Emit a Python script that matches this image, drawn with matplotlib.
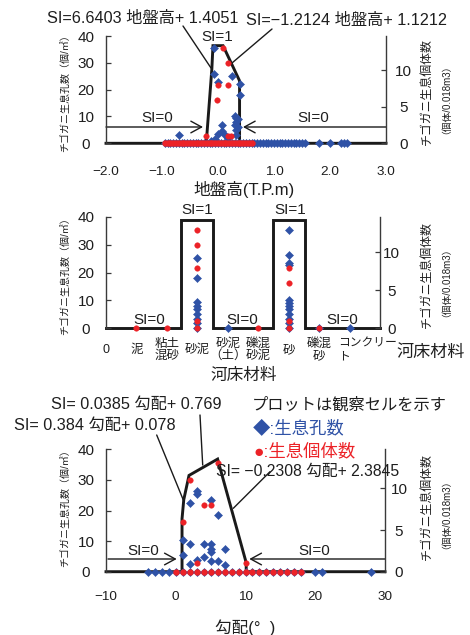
import matplotlib
matplotlib.use('Agg')
import matplotlib.pyplot as plt

# ---------------- data ----------------
# Panel 1: ground elevation (T.P. m)
elev_blue_x = [-0.70, -0.07, -0.08, 0.00, 0.25, 0.39, 0.39, 0.07, 0.30, 0.33, 0.36,
               0.32, 0.30, 0.35, 0.33, 0.32, 0.00, 0.07, 0.12, 0.18, -0.05, -0.12]
elev_blue_y = [3.0, 35.5, 26.0, 23.0, 25.0, 22.0, 18.0, 7.0, 10.0, 9.5, 9.0,
               8.0, 7.0, 6.0, 5.0, 3.0, 3.5, 4.5, 3.0, 2.0, 1.5, 1.0]
elev_blue_zero_x = [-0.95, -0.90, -0.85, -0.80, -0.75, -0.70, -0.65, -0.60, -0.55, -0.50,
                    -0.45, -0.40, -0.35, -0.30, -0.25, -0.20, -0.15, -0.10, -0.05, 0.00,
                    0.05, 0.10, 0.15, 0.20, 0.25, 0.30, 0.35, 0.40, 0.45, 0.50,
                    0.55, 0.60, 0.65, 0.70, 0.75, 0.80, 0.85, 0.90, 0.95, 1.00,
                    1.05, 1.10, 1.15, 1.20, 1.25, 1.30, 1.35, 1.40, 1.45, 1.50,
                    1.55, 1.80, 2.00, 2.20, 2.25, 2.30]
elev_red_x = [0.09, 0.18, 0.00, 0.17, -0.01, -0.22, 0.17, 0.23]
elev_red_y = [13, 11, 8, 8, 6, 1, 1, 1]
elev_red_zero_x = [-0.95, -0.90, -0.85, -0.80, -0.75, -0.70, -0.65, -0.60, -0.55, -0.50,
                   -0.45, -0.40, -0.35, -0.30, -0.25, -0.20, -0.15, -0.10, -0.05, 0.00,
                   0.05, 0.10, 0.15, 0.20, 0.25, 0.30, 0.35, 0.40, 0.45, 0.50, 0.55, 0.60]
elev_si_x = [-2.0, -0.21, -0.11, -0.09, 0.09, 0.385, 0.385, 3.0]
elev_si_y = [0.0, 0.0, 0.76, 1.0, 1.0, 0.64, 0.0, 0.0]

# Panel 2: river-bed material (categorical)
sub_labels = ['0', '泥', '粘土\n混砂', '砂泥', '砂泥\n（土）', '礫混\n砂泥', '砂', '礫混\n砂', '']
sub_last_label = 'コンクリー\nト'
sub_blue_cat = [3, 3, 3, 3, 3, 3, 3, 3, 3,
                6, 6, 6, 6, 6, 6, 6, 6, 6, 6, 6, 6,
                4, 7, 8]
sub_blue_val = [25.2, 18.1, 9.3, 8.1, 6.8, 5.1, 3.3, 1.8, 0,
                35.2, 26.3, 23.5, 22.7, 10.1, 9.2, 8.1, 6.8, 5.1, 3.3, 1.8, 0,
                0, 0, 0]
sub_red_cat = [3, 3, 3, 3, 3, 6, 6, 6, 6, 1, 2, 5, 7]
sub_red_val = [13, 11, 8, 1, 0, 8, 6, 1, 0, 0, 0, 0, 0]
sub_si_x = [0, 2.45, 2.45, 3.5, 3.5, 5.5, 5.5, 6.55, 6.55, 9]
sub_si_y = [0, 0, 1, 1, 0, 0, 1, 1, 0, 0]

# Panel 3: slope (degree)
slope_blue_x = [1, 1, 2, 2, 2, 3, 3, 3, 4, 4, 5, 5, 5, 5, 5, 6, 6, 7, 7]
slope_blue_y = [10.5, 5.5, 22.5, 9.0, 2.5, 26.5, 25.3, 3.8, 9.0, 4.8,
                23.5, 9.0, 7.5, 6.5, 3.6, 18.5, 3.6, 7.5, 2.3]
slope_blue_zero_x = [-4, -3, -2, -1, 0, 1, 2, 3, 4, 5, 6, 7, 8, 9, 10, 11, 12,
                     13, 14, 15, 16, 17, 18, 20, 21, 28]
slope_red_x = [1, 2, 3, 4, 5, 6, 10]
slope_red_y = [6, 11, 1, 8, 8, 13, 1]
slope_red_zero_x = [0, 1, 2, 3, 4, 5, 6, 7, 8, 9, 10, 11, 12, 13, 14, 15, 16, 17, 18]
slope_si_x = [-10, 0.9, 0.9, 1.15, 1.9, 6.0, 10.1, 10.1, 30]
slope_si_y = [0, 0, 0.47, 0.64, 0.855, 1.0, 0.08, 0, 0]

# ---------------- style ----------------
FAM = ['Liberation Sans', 'Noto Sans CJK JP', 'DejaVu Sans']
plt.rcParams['font.family'] = FAM
TXT = '#1e1e1e'
SP = '#3a3a3a'
BLUE = '#2F52A6'
RED = '#EC2227'
SILC = '#1a1a1a'
ANN = 11.7
W, H = 470, 635

fig = plt.figure(figsize=(4.7, 6.35), dpi=100)


def P(x, y):
    return (x / W, 1 - y / H)


def T(x, y, s, size=ANN, **kw):
    kw.setdefault('ha', 'center')
    kw.setdefault('va', 'center')
    kw.setdefault('color', TXT)
    fig.text(x / W, 1 - y / H, s, fontsize=size, **kw)


def line(x0, y0, x1, y1, arrow=False):
    style = '->,head_length=0.55,head_width=0.3' if arrow else '-'
    fig.add_artist(matplotlib.patches.FancyArrowPatch(
        P(x0, y0), P(x1, y1), transform=fig.transFigure, arrowstyle=style,
        mutation_scale=14, lw=1.0, color=SILC, shrinkA=0, shrinkB=0))


def panel(l, t, r, b, xlim, si_top, xpad_px, rpad_px):
    rect = [l / W, 1 - b / H, (r - l) / W, (b - t) / H]
    axs = fig.add_axes(rect)
    ax = fig.add_axes(rect, sharex=axs)
    axr = fig.add_axes(rect, sharex=axs)
    for a, z in ((axs, 1), (ax, 2), (axr, 3)):
        a.set_zorder(z)
        a.patch.set_visible(False)
        for s in a.spines.values():
            s.set_visible(False)
    axs.set_xlim(*xlim)
    axs.set_ylim(0, si_top)
    axs.tick_params(left=False, bottom=False, labelleft=False, labelbottom=False)
    ax.set_ylim(0, 40)
    ax.set_yticks([0, 10, 20, 30, 40])
    ax.spines['left'].set_visible(True)
    ax.spines['left'].set_color(SP)
    ax.spines['left'].set_linewidth(1.0)
    ax.tick_params(axis='y', direction='in', length=3.5, width=0.9, color=SP,
                   labelsize=11, labelcolor=TXT, pad=20 / 1.389)
    for tl in ax.get_yticklabels():
        tl.set_ha('center')
    ax.tick_params(axis='x', length=0, labelsize=9.7, labelcolor=TXT, pad=xpad_px / 1.389)
    axr.set_ylim(0, 14.7)
    axr.yaxis.tick_right()
    axr.set_yticks([0, 5, 10])
    axr.spines['right'].set_visible(True)
    axr.spines['right'].set_color(SP)
    axr.spines['right'].set_linewidth(1.0)
    axr.tick_params(axis='y', direction='in', length=3.5, width=0.9, color=SP,
                    labelsize=11, labelcolor=TXT, pad=rpad_px / 1.389)
    for tl in axr.get_yticklabels():
        tl.set_ha('center')
    axr.tick_params(axis='x', bottom=False, labelbottom=False)
    return axs, ax, axr


def points(ax, axr, bx, by, bzx, rx, ry, rzx):
    ax.plot(bzx, [0] * len(bzx), 'D', ms=4.0, color=BLUE, mec=BLUE, mew=0.4, clip_on=False, zorder=3)
    ax.plot(bx, by, 'D', ms=4.2, color=BLUE, mec=BLUE, mew=0.4, clip_on=False, zorder=3)
    axr.plot(rzx, [0] * len(rzx), 'o', ms=4.3, color=RED, mec=RED, mew=0.3, clip_on=False, zorder=3)
    axr.plot(rx, ry, 'o', ms=4.0, color=RED, mec=RED, mew=0.3, clip_on=False, zorder=3)


def ylabels(yc):
    T(65, yc, 'チゴガニ生息孔数（個/㎡）', size=7.2, rotation=90)
    T(427, yc + 1, 'チゴガニ生息個体数', size=8.6, rotation=90)
    T(441, yc + 3, '（個体/0.018m3）', size=7.0, rotation=90)


# ---------------- panel 1 ----------------
axs1, ax1, axr1 = panel(106, 36, 386, 143.3, (-2, 3), 40 / 36.4, 28.7, 17.5)
ax1.set_xticks([-2, -1, 0, 1, 2, 3])
ax1.set_xticklabels(['−2.0', '−1.0', '0.0', '1.0', '2.0', '3.0'])
for tl in ax1.get_xticklabels():
    tl.set_va('center')
axs1.plot(elev_si_x, elev_si_y, color=SILC, lw=2.1, solid_joinstyle='miter', clip_on=False)
points(ax1, axr1, elev_blue_x, elev_blue_y, elev_blue_zero_x, elev_red_x, elev_red_y, elev_red_zero_x)
ylabels(91)
T(142.5, 19, 'SI=6.6403 地盤高+ 1.4051')
T(346.7, 21, 'SI=−1.2124 地盤高+ 1.1212')
T(217.5, 37, 'SI=1', size=11)
T(157.5, 118, 'SI=0', size=11)
T(313.3, 118, 'SI=0', size=11)
T(244, 189.5, '地盤高(T.P.m)', size=12)
line(183, 26, 211, 68)
line(272, 29, 232, 63)
line(106, 127, 203, 127, arrow=True)
line(386, 127, 243, 127, arrow=True)

# ---------------- panel 2 ----------------
axs2, ax2, axr2 = panel(106, 216.7, 380, 328.3, (0, 9), 40 / 38.8, 21.7, 11.7)
ax2.set_xticks(range(9))
ax2.set_xticklabels(sub_labels, fontsize=9, linespacing=1.0)
for tl in ax2.get_xticklabels():
    tl.set_va('center')
axs2.plot(sub_si_x, sub_si_y, color=SILC, lw=2.1, solid_joinstyle='miter', clip_on=False)
points(ax2, axr2, sub_blue_cat, sub_blue_val, [], sub_red_cat, sub_red_val, [])
ylabels(274)
T(338, 350, sub_last_label, size=8.5, ha='left', linespacing=1.05)
T(431, 352, '河床材料', size=12.3)
T(244, 375, '河床材料', size=12)
T(197.5, 210, 'SI=1', size=11)
T(290, 210, 'SI=1', size=11)
T(149, 320.5, 'SI=0', size=11)
T(242.5, 320.5, 'SI=0', size=11)
T(342.5, 320.5, 'SI=0', size=11)

# ---------------- panel 3 ----------------
axs3, ax3, axr3 = panel(106, 449.3, 385, 571.7, (-10, 30), 40 / 36.8, 25.8, 14)
ax3.set_xticks([-10, 0, 10, 20, 30])
ax3.set_xticklabels(['−10', '0', '10', '20', '30'])
for tl in ax3.get_xticklabels():
    tl.set_va('center')
axs3.plot(slope_si_x, slope_si_y, color=SILC, lw=2.1, solid_joinstyle='miter', clip_on=False)
points(ax3, axr3, slope_blue_x, slope_blue_y, slope_blue_zero_x, slope_red_x, slope_red_y, slope_red_zero_x)
ylabels(506)
T(136, 404, 'SI= 0.0385 勾配+ 0.769')
T(95, 425, 'SI= 0.384 勾配+ 0.078')
T(307.5, 471.5, 'SI= −0.2308 勾配+ 2.3845', size=11.3)
T(349.5, 404.5, 'プロットは観察セルを示す')
T(253, 427.5, '◆:生息孔数', size=12.5, ha='left', color=BLUE)
T(253, 450.5, '●:生息個体数', size=12.5, ha='left', color=RED)
T(143, 551, 'SI=0', size=11)
T(314, 551, 'SI=0', size=11)
T(245, 628, '勾配(°  )', size=12)
line(200, 415, 202.7, 465)
line(156.7, 435, 183.3, 500)
line(270, 471.7, 233.3, 508.3)
line(108, 559, 176.7, 559, arrow=True)
line(385, 559, 249.3, 559, arrow=True)

fig.savefig('out.png', dpi=100)
